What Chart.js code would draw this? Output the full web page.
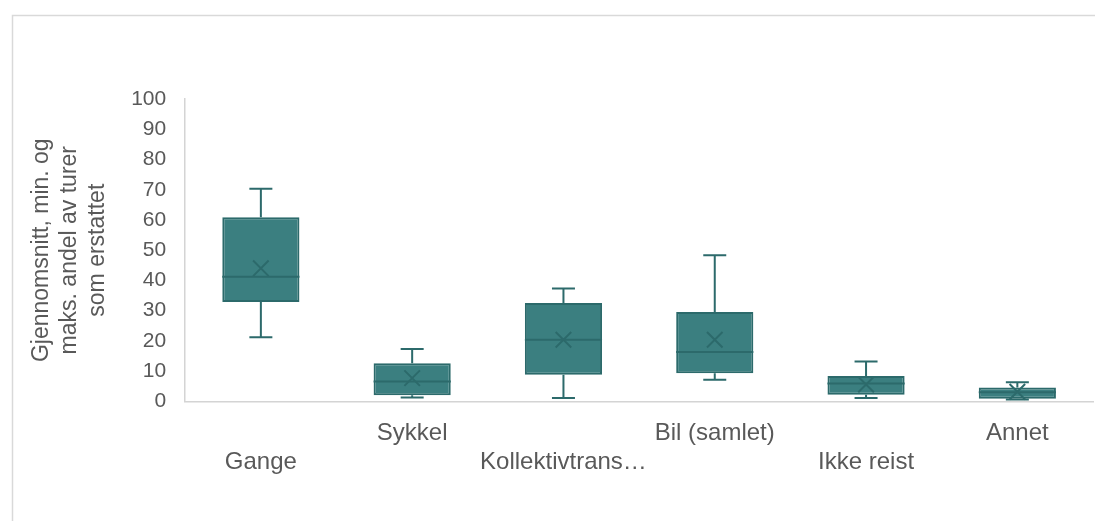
<!DOCTYPE html>
<html>
<head>
<meta charset="utf-8">
<script src="https://cdn.jsdelivr.net/npm/chart.js@4.4.1/dist/chart.umd.min.js"></script>
<style>
  body { margin: 0; background: #fff; }
  #wrap { position: relative; width: 1095px; height: 521px; }
</style>
</head>
<body>
<div id="wrap"><canvas id="boxChart"></canvas></div>
<script>
// categories and box statistics (share of trips replaced, %)
const categories = ['Gange', 'Sykkel', 'Kollektivtrans…', 'Bil (samlet)', 'Ikke reist', 'Annet'];
const minVals    = [21.2, 1.3, 1.1, 7.2, 1.1, 0.6];
const q1Vals     = [32.9, 2.0, 8.8, 9.3, 2.2, 0.9];
const medianVals = [41.2, 6.6, 20.4, 16.3, 5.9, 3.0];
const q3Vals     = [60.9, 12.6, 32.5, 29.6, 8.4, 4.6];
const maxVals    = [70.3, 17.3, 37.3, 48.3, 13.2, 6.3];
const meanVals   = [44.0, 7.7, 20.4, 20.4, 5.6, 3.2];
const yTicks     = [0, 10, 20, 30, 40, 50, 60, 70, 80, 90, 100];

const boxFill = '#3b7f80';
const boxLine = '#2c6a6b';
const textGray = '#595959';
const axisGray = '#d4d4d4';

// frame round the whole chart, like the Excel chart area border
const frame = {
  id: 'frame',
  beforeDraw(chart) {
    const ctx = chart.ctx;
    ctx.save();
    ctx.strokeStyle = '#d9d9d9';
    ctx.lineWidth = 1.5;
    ctx.strokeRect(12.5, 15.5, 1200, 1000);
    ctx.restore();
  }
};

// whiskers, caps and median line, placed with the chart scales
const boxExtras = {
  id: 'boxExtras',
  afterDatasetsDraw(chart) {
    const ctx = chart.ctx;
    const y = chart.scales.y;
    const meta = chart.getDatasetMeta(1);
    ctx.save();
    ctx.strokeStyle = boxLine;
    ctx.lineWidth = 2;
    meta.data.forEach((bar, i) => {
      const cx = bar.x;
      const half = bar.width / 2;
      const cap = 11.5;
      const yMin = y.getPixelForValue(minVals[i]);
      const yQ1 = y.getPixelForValue(q1Vals[i]);
      const yMed = y.getPixelForValue(medianVals[i]);
      const yQ3 = y.getPixelForValue(q3Vals[i]);
      const yMax = y.getPixelForValue(maxVals[i]);
      ctx.beginPath();
      ctx.moveTo(cx, yQ3); ctx.lineTo(cx, yMax);
      ctx.moveTo(cx - cap, yMax); ctx.lineTo(cx + cap, yMax);
      ctx.moveTo(cx, yQ1); ctx.lineTo(cx, yMin);
      ctx.moveTo(cx - cap, yMin); ctx.lineTo(cx + cap, yMin);
      ctx.moveTo(cx - half, yMed); ctx.lineTo(cx + half, yMed);
      ctx.stroke();
    });
    ctx.restore();
  }
};

const ctx = document.getElementById('boxChart').getContext('2d');
new Chart(ctx, {
  type: 'bar',
  data: {
    labels: categories,
    datasets: [
      {
        type: 'line',
        label: 'Gjennomsnitt',
        data: meanVals,
        showLine: false,
        pointStyle: 'crossRot',
        pointRadius: 11,
        pointBorderWidth: 2,
        borderColor: boxLine,
        backgroundColor: boxLine,
        order: 0
      },
      {
        label: 'Boks',
        data: q1Vals.map((q, i) => [q, q3Vals[i]]),
        backgroundColor: boxFill,
        borderColor: boxLine,
        borderWidth: 2,
        borderSkipped: false,
        categoryPercentage: 1,
        barPercentage: 0.51,
        order: 1
      }
    ]
  },
  options: {
    responsive: true,
    maintainAspectRatio: false,
    animation: false,
    layout: { autoPadding: false, padding: { top: 99, left: 7, right: 2, bottom: 26 } },
    plugins: {
      legend: { display: false },
      tooltip: { enabled: false }
    },
    scales: {
      x: {
        grid: { display: false, drawTicks: false },
        border: { color: axisGray, width: 1.5 },
        afterFit: (scale) => { scale.paddingLeft = 0; scale.paddingRight = 0; },
        ticks: {
          color: textGray,
          font: { family: 'Liberation Sans', size: 24, lineHeight: 1.2 },
          padding: 18,
          maxRotation: 0,
          autoSkip: false,
          callback: (v, i) => i % 2 === 0 ? ['', categories[i]] : [categories[i], '']
        }
      },
      y: {
        min: 0,
        max: 100,
        afterBuildTicks: (scale) => { scale.ticks = yTicks.map(v => ({ value: v })); },
        grid: { display: false, drawTicks: false },
        border: { color: axisGray, width: 1.5 },
        ticks: {
          color: textGray,
          font: { family: 'Liberation Sans', size: 21 },
          padding: 19
        },
        title: {
          display: true,
          text: ['Gjennomsnitt, min. og', 'maks. andel av turer', 'som erstattet'],
          color: textGray,
          font: { family: 'Liberation Sans', size: 23, lineHeight: 1.22 },
          padding: { top: 21, bottom: 0 }
        }
      }
    }
  },
  plugins: [frame, boxExtras]
});
</script>
</body>
</html>
